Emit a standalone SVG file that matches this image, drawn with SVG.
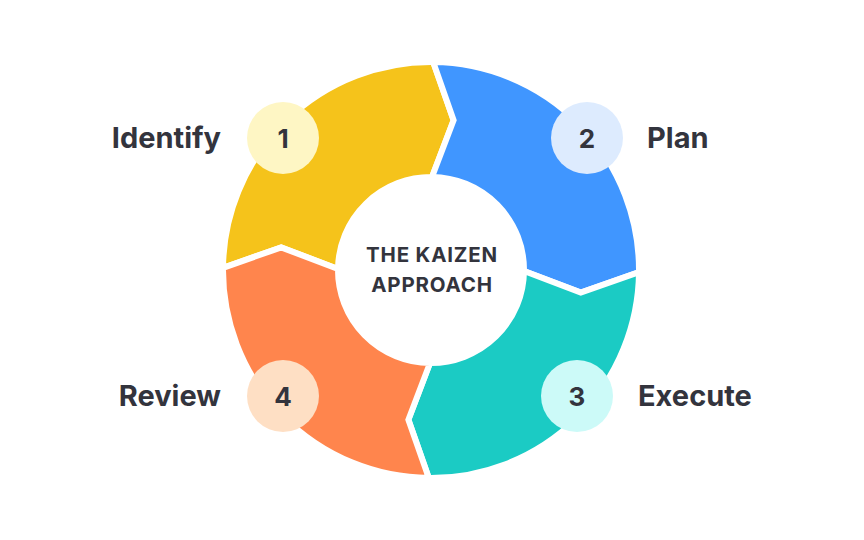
<svg xmlns="http://www.w3.org/2000/svg" width="864" height="540" viewBox="0 0 864 540">
<style>
.seg{stroke:#ffffff;stroke-width:6;stroke-linejoin:miter}
.lbl{font-family:Inter,"Liberation Sans",Arial,sans-serif;font-weight:700;font-size:29px;fill:#33343d}
.num{font-family:Inter,"Liberation Sans",Arial,sans-serif;font-weight:700;font-size:26px;fill:#33343d;text-anchor:middle}
.ctr{font-family:Inter,"Liberation Sans",Arial,sans-serif;font-weight:700;font-size:20.5px;fill:#33343d;text-anchor:middle;letter-spacing:0.8px}
</style>
<rect width="864" height="540" fill="#ffffff"/>
<g id="identify">
<path class="seg" fill="#F5C31B" d="M223,267.8 A208,208 0 0 1 433.2,62 L453.6,120.2 L432,177 A93,93 0 0 0 338,269 L281.2,247.4 Z"/>
<circle cx="283" cy="138" r="36" fill="#FEF6C4"/>
<text class="num" x="283" y="147.5">1</text>
<text class="lbl" x="221" y="148" text-anchor="end">Identify</text>
</g>
<g id="plan">
<path class="seg" fill="#4096FF" d="M433.2,62 A208,208 0 0 1 639,272.2 L580.8,292.6 L524,271 A93,93 0 0 0 432,177 L453.6,120.2 Z"/>
<circle cx="587" cy="138" r="36" fill="#DDEBFE"/>
<text class="num" x="587" y="147.5">2</text>
<text class="lbl" x="647" y="148">Plan</text>
</g>
<g id="execute">
<path class="seg" fill="#1BCBC4" d="M639,272.2 A208,208 0 0 1 428.8,478 L408.4,419.8 L430,363 A93,93 0 0 0 524,271 L580.8,292.6 Z"/>
<circle cx="577" cy="396" r="36" fill="#CCFAF8"/>
<text class="num" x="577" y="405.5">3</text>
<text class="lbl" x="638" y="406">Execute</text>
</g>
<g id="review">
<path class="seg" fill="#FF854D" d="M428.8,478 A208,208 0 0 1 223,267.8 L281.2,247.4 L338,269 A93,93 0 0 0 430,363 L408.4,419.8 Z"/>
<circle cx="283" cy="396" r="36" fill="#FEDFC4"/>
<text class="num" x="283" y="405.5">4</text>
<text class="lbl" x="221" y="406" text-anchor="end">Review</text>
</g>
<g id="center">
<text class="ctr" x="432" y="262">THE KAIZEN</text>
<text class="ctr" x="432" y="292">APPROACH</text>
</g>
<g id="connectors"></g>
</svg>
